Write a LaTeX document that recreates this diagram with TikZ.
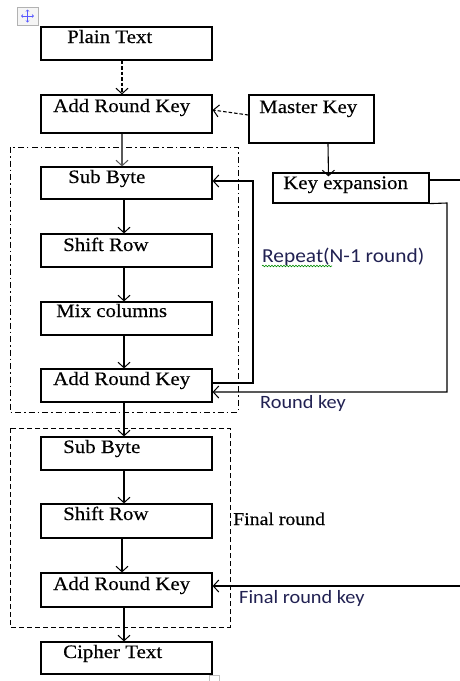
\documentclass[tikz,border=0pt]{standalone}
\usepackage{fontspec}
\setmainfont{Liberation Serif}[FakeStretch=1.1,FakeBold=0.4]
\newfontfamily\calib{Carlito}[FakeStretch=1.08]
\usetikzlibrary{arrows.meta,decorations.pathmorphing}
\definecolor{sanscol}{rgb}{0.13,0.13,0.32}
\begin{document}
\begin{tikzpicture}[x=1pt,y=-1pt,
  box/.style={draw, line width=1.2pt, inner sep=0pt, minimum width=171pt},
  lbl/.style={anchor=base west, inner sep=0pt, font=\fontsize{19}{19}\selectfont},
  slbl/.style={anchor=base west, inner sep=0pt, font=\calib\fontsize{18.8}{18.8}\selectfont, text=sanscol},
  conn/.style={line width=1.1pt, -{Straight Barb[length=5.5pt,width=12pt,line width=1pt]}},
  dconn/.style={conn, dash pattern=on 3.5pt off 2pt},
  plain/.style={line width=1.1pt}]
\useasboundingbox (0,0) rectangle (460,681);
% Word move icon
\draw[gray!60, fill=gray!8, line width=0.6pt] (17,7) rectangle (38,25);
\draw[blue!65, line width=0.8pt, {Stealth[length=2pt,width=3.5pt]}-{Stealth[length=2pt,width=3.5pt]}] (21,16) -- (34,16);
\draw[blue!65, line width=0.8pt, {Stealth[length=2pt,width=3.5pt]}-{Stealth[length=2pt,width=3.5pt]}] (27.5,9.5) -- (27.5,22.5);
% boxes
\node[box, minimum height=33pt] (pt) at (126.5,43.5) {};
\node[box, minimum height=38pt] (ark1) at (126.5,114) {};
\node[box, minimum width=125pt, minimum height=48pt] (mk) at (311.5,119) {};
\node[box, minimum width=156pt, minimum height=30pt] (ke) at (351,188) {};
\node[box, minimum height=32pt] (sb1) at (126.5,183) {};
\node[box, minimum height=33pt] (sr1) at (126.5,250.5) {};
\node[box, minimum height=33pt] (mc) at (126.5,318.5) {};
\node[box, minimum height=33pt] (ark2) at (126.5,385.5) {};
\node[box, minimum height=33pt] (sb2) at (126.5,453.5) {};
\node[box, minimum height=34pt] (sr2) at (126.5,521) {};
\node[box, minimum height=34pt] (ark3) at (126.5,590) {};
\node[box, minimum height=32pt] (ct) at (126.5,658) {};
% group frames
\draw[line width=1pt, dash pattern=on 6pt off 3pt on 1.5pt off 3pt] (10,147) rectangle (238,412);
\draw[line width=1pt, dash pattern=on 5pt off 3pt] (10,428) rectangle (230,627);
% texts
\node[lbl] (tpt) at (67,43) {Plain Text};
\node[lbl] (tark1) at (53,112) {Add Round Key};
\node[lbl] (tmk) at (259,113) {Master Key};
\node[lbl] (tke) at (283,189) {Key expansion};
\node[lbl] (tsb1) at (68,183) {Sub Byte};
\node[lbl] (tsr1) at (63,251) {Shift Row};
\node[lbl] (tmc) at (56,317) {Mix columns};
\node[lbl] (tark2) at (53,385) {Add Round Key};
\node[lbl] (tsb2) at (63,453) {Sub Byte};
\node[lbl] (tsr2) at (63,520) {Shift Row};
\node[lbl] (tark3) at (53,590) {Add Round Key};
\node[lbl] (tct) at (63,658) {Cipher Text};
\node[lbl, font=\fontsize{18}{18}\selectfont] (tfr) at (233,525) {Final round};
\node[slbl, font=\calib\fontsize{19.8}{19.8}\selectfont] (trep) at (262,262) {Repeat(N-1 round)};
\node[slbl] (trk) at (260,408) {Round key};
\node[slbl] (tfrk) at (239,603) {Final round key};
\draw[green!55!black, line width=0.6pt, decorate, decoration={snake, amplitude=0.8pt, segment length=3pt}] (262,266) -- (332,266);
% connectors
\draw[dconn] ([xshift=-4.5pt]pt.south) -- ([xshift=-4.5pt]ark1.north);
\draw[dconn] ([yshift=4pt]mk.west) -- ([yshift=4pt]ark1.east);
\draw[conn] ([xshift=16.5pt]mk.south) -- ([xshift=-22.5pt,yshift=-4pt]ke.north);
\draw[conn, black!65] ([xshift=-4.5pt]ark1.south) -- ([xshift=-4.5pt]sb1.north);
\draw[conn] ([xshift=-2.5pt]sb1.south) -- ([xshift=-2.5pt]sr1.north);
\draw[conn] ([xshift=-2.5pt]sr1.south) -- ([xshift=-2.5pt]mc.north);
\draw[conn] ([xshift=-2.5pt]mc.south) -- ([xshift=-2.5pt]ark2.north);
\draw[conn] ([xshift=-2.5pt]ark2.south) -- ([xshift=-2.5pt]sb2.north);
\draw[conn] ([xshift=-2.5pt]sb2.south) -- ([xshift=-2.5pt]sr2.north);
\draw[conn] ([xshift=-4.5pt]sr2.south) -- ([xshift=-4.5pt]ark3.north);
\draw[conn] ([xshift=-2.5pt]ark3.south) -- ([xshift=-2.5pt]ct.north);
% loop back
\draw[conn] ([yshift=2.5pt]ark2.east) -- (253,383) -- (253,181) -- ([yshift=2pt]sb1.east);
% key expansion outputs
\coordinate (kout) at (460,180);
\draw[plain] ([yshift=8pt]ke.east) -- (kout);
\draw[conn] (ke.south east) -- (447,203) -- (447,392) -- ([yshift=-6.5pt]ark2.east);
\coordinate (fin) at (460,586);
\draw[conn] (fin) -- ([yshift=4pt]ark3.east);
% small handle at bottom
\draw[gray!50, line width=0.6pt] (209,675) rectangle (219,684);
\end{tikzpicture}
\end{document}
